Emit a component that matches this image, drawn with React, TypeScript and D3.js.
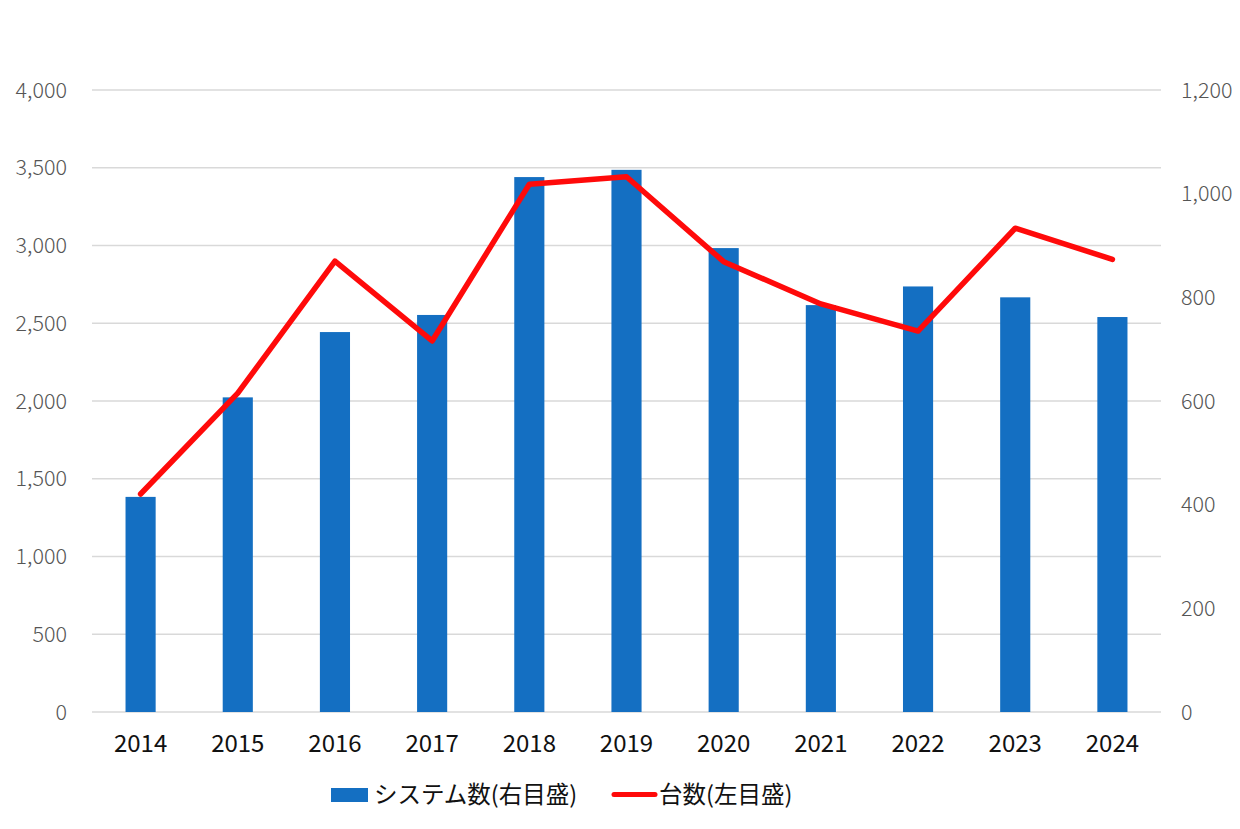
import React from "react";
import * as d3 from "d3";

const years = ["2014", "2015", "2016", "2017", "2018", "2019", "2020", "2021", "2022", "2023", "2024"];
const systems = [415, 607, 733, 766, 1032, 1046, 895, 785, 821, 800, 762];
const units = [1402, 2051, 2900, 2386, 3394, 3442, 2896, 2624, 2450, 3111, 2911];
const leftTicks = [0, 500, 1000, 1500, 2000, 2500, 3000, 3500, 4000];
const rightTicks = [0, 200, 400, 600, 800, 1000, 1200];
const barLabel = "システム数(右目盛)";
const lineLabel = "台数(左目盛)";

const W = 1240;
const H = 829;
const left = 92;
const right = 1161;
const top = 90;
const bottom = 712;
const FONT = "'Noto Sans CJK JP', 'Noto Sans', sans-serif";

export default function App() {
  const x = d3.scaleBand<string>().domain(years).range([left, right]).paddingInner(0.69).paddingOuter(0.345);
  const yL = d3.scaleLinear().domain([0, 4000]).range([bottom, top]);
  const yR = d3.scaleLinear().domain([0, 1200]).range([bottom, top]);
  const fmt = d3.format(",");
  const line = d3
    .line<number>()
    .x((_, i) => (x(years[i]) as number) + x.bandwidth() / 2)
    .y((d) => yL(d));

  return (
    <svg width={W} height={H} style={{ position: "absolute", left: 0, top: 0, background: "#fff" }}>
      <rect x={0} y={0} width={W} height={H} fill="#fff" />
      {leftTicks.map((t) => (
        <line key={"g" + t} x1={left} x2={right} y1={yL(t)} y2={yL(t)} stroke="#d9d9d9" strokeWidth={1.5} />
      ))}
      {leftTicks.map((t) => (
        <text key={"l" + t} x={67} y={yL(t)} dy="0.36em" textAnchor="end" fontSize={21.5} fill="#555" fontFamily={FONT} fontWeight={300}>
          {fmt(t)}
        </text>
      ))}
      {rightTicks.map((t) => (
        <text key={"r" + t} x={1181} y={yR(t)} dy="0.36em" textAnchor="start" fontSize={21.5} fill="#555" fontFamily={FONT} fontWeight={300}>
          {fmt(t)}
        </text>
      ))}
      {years.map((yr, i) => (
        <rect key={"b" + yr} x={x(yr)} y={yR(systems[i])} width={x.bandwidth()} height={bottom - yR(systems[i])} fill="#146fc2" />
      ))}
      <path d={line(units) || ""} fill="none" stroke="#ff0a0a" strokeWidth={5.5} strokeLinejoin="round" strokeLinecap="round" />
      {years.map((yr) => (
        <text key={"x" + yr} x={(x(yr) as number) + x.bandwidth() / 2} y={752} textAnchor="middle" fontSize={24} fill="#111" fontFamily={FONT}>
          {yr}
        </text>
      ))}
      <g fontFamily={FONT} fontSize={23.5} fill="#111">
        <rect x={331} y={788} width={37} height={14} fill="#146fc2" />
        <text x={374} y={803}>{barLabel}</text>
        <line x1={614} x2={655} y1={794.5} y2={794.5} stroke="#ff0a0a" strokeWidth={5} strokeLinecap="round" />
        <text x={659} y={803}>{lineLabel}</text>
      </g>
    </svg>
  );
}
